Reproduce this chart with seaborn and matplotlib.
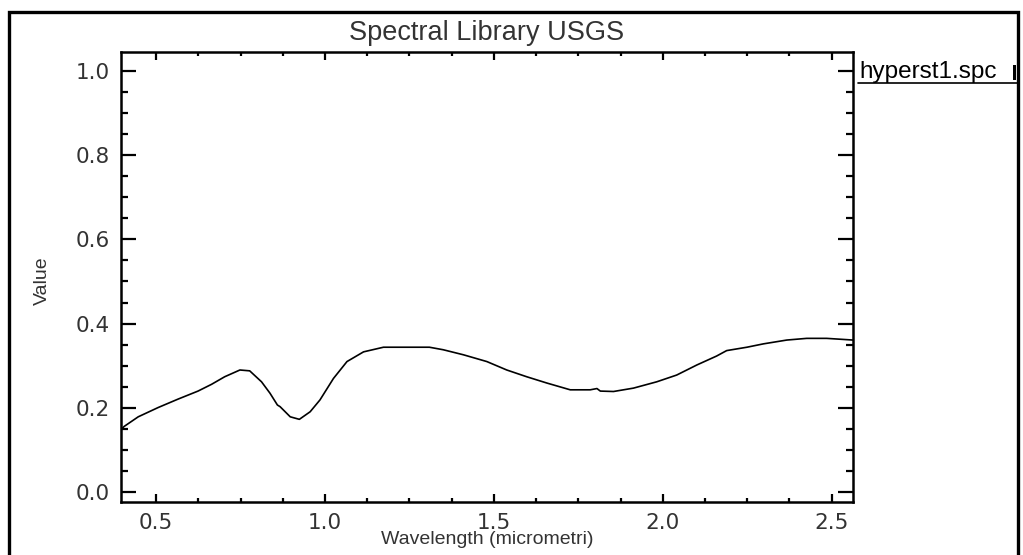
import numpy as np
import pandas as pd
import matplotlib
matplotlib.use("Agg")
import matplotlib.pyplot as plt
from matplotlib.ticker import MultipleLocator
from matplotlib.patches import Rectangle
import seaborn as sns

# ---- data ----
wavelength = [0.396, 0.405, 0.447, 0.506, 0.565, 0.624, 0.664, 0.703, 0.748, 0.777,
              0.812, 0.837, 0.859, 0.867, 0.897, 0.924, 0.956, 0.985, 1.025, 1.065,
              1.114, 1.173, 1.252, 1.309, 1.350, 1.410, 1.479, 1.538, 1.597, 1.657,
              1.726, 1.785, 1.805, 1.815, 1.854, 1.913, 1.982, 2.041, 2.101, 2.159,
              2.189, 2.249, 2.298, 2.367, 2.426, 2.485, 2.563]
value = [0.148, 0.156, 0.179, 0.201, 0.221, 0.240, 0.256, 0.274, 0.290, 0.288,
         0.262, 0.235, 0.207, 0.203, 0.179, 0.173, 0.191, 0.219, 0.270, 0.310,
         0.333, 0.344, 0.344, 0.344, 0.338, 0.326, 0.310, 0.290, 0.274, 0.259,
         0.243, 0.243, 0.246, 0.240, 0.239, 0.247, 0.262, 0.278, 0.302, 0.323,
         0.336, 0.344, 0.352, 0.361, 0.365, 0.365, 0.361]
x_ticks = [0.5, 1.0, 1.5, 2.0, 2.5]
y_ticks = [0.0, 0.2, 0.4, 0.6, 0.8, 1.0]
title = "Spectral Library USGS"
x_label = "Wavelength (micrometri)"
y_label = "Value"
legend_label = "hyperst1.spc"

df = pd.DataFrame({"w": wavelength, "v": value})

sns.set_theme(style="white")
plt.rcParams["font.family"] = ["DejaVu Sans"]

W, H = 1023, 555
fig = plt.figure(figsize=(W / 100, H / 100), dpi=100)
fig.patch.set_facecolor("white")

def fx(px):
    return px / W

def fy(py):
    return 1 - py / H

ax = fig.add_axes([fx(121), fy(502), fx(853) - fx(121), fy(52) - fy(502)])
sns.lineplot(data=df, x="w", y="v", ax=ax, color="black", linewidth=1.2)

ax.set_xlim(0.396, 2.563)
ax.set_ylim(-0.023, 1.044)
ax.set_xticks(x_ticks)
ax.set_yticks(y_ticks)
ax.set_xticklabels([f"{t:.1f}" for t in x_ticks])
ax.set_yticklabels([f"{t:.1f}" for t in y_ticks])
ax.xaxis.set_minor_locator(MultipleLocator(0.125))
ax.yaxis.set_minor_locator(MultipleLocator(0.05))
ax.set_xlabel("")
ax.set_ylabel("")

for s in ax.spines.values():
    s.set_color("black")
    s.set_linewidth(1.8)

ax.tick_params(axis="both", which="both", direction="in", top=True, right=True,
               bottom=True, left=True, color="black", width=1.6,
               labelsize=15.5, labelcolor="#333333")
ax.tick_params(axis="x", which="major", length=6, pad=8)
ax.tick_params(axis="x", which="minor", length=3)
ax.tick_params(axis="y", which="major", length=10.5, pad=8)
ax.tick_params(axis="y", which="minor", length=5)

# title and axis labels placed like the reference
fig.text(fx(487), fy(33), title, ha="center", va="center", fontsize=19.5, color="#333333",
         family=["Liberation Sans", "DejaVu Sans"])
fig.text(fx(487), fy(540), x_label, ha="center", va="center", fontsize=14,
         color="#333333", family=["Liberation Sans", "DejaVu Sans"])
fig.text(fx(42), fy(281), y_label, ha="center", va="center", rotation=90,
         fontsize=14, color="#333333", family=["Liberation Sans", "DejaVu Sans"])

# legend entry: text with underline
fig.text(fx(859), fy(72), legend_label, ha="left", va="center", fontsize=17.5, color="black",
         family=["Liberation Sans", "DejaVu Sans"])
fig.add_artist(plt.Line2D([fx(858), fx(1017)], [fy(82.5), fy(82.5)], color="black",
                          linewidth=1.2, transform=fig.transFigure))
fig.add_artist(Rectangle((fx(1013), fy(80)), fx(3), fy(65) - fy(80), transform=fig.transFigure,
                         facecolor="black", edgecolor="none"))

# outer frame of the window
fig.add_artist(Rectangle((fx(8.5), fy(600)), fx(1018) - fx(8.5), fy(12) - fy(600),
                         transform=fig.transFigure, fill=False, edgecolor="black",
                         linewidth=2.4, clip_on=False))

fig.savefig("out.png", dpi=100, facecolor="white")
